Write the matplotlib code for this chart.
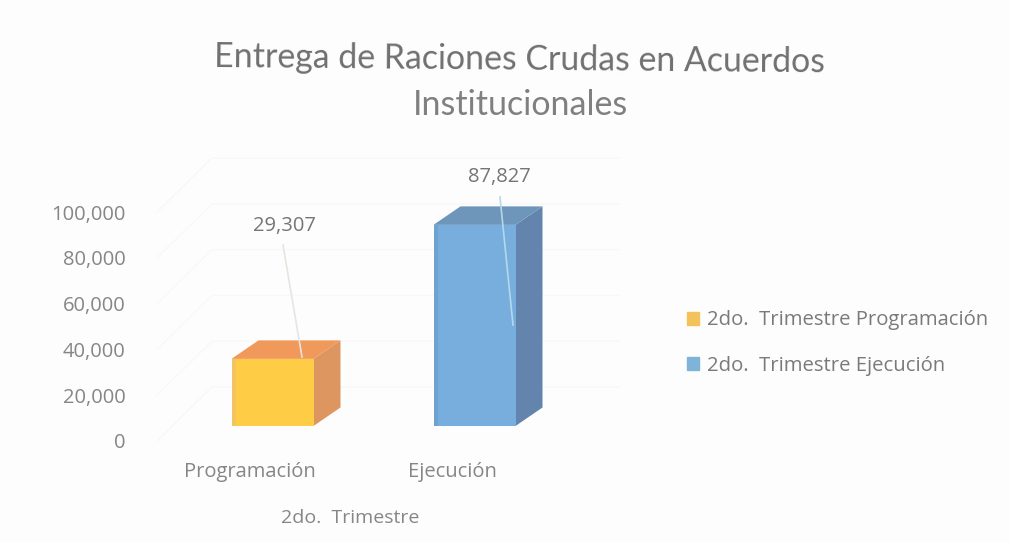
import matplotlib
matplotlib.use("Agg")
import matplotlib.pyplot as plt
from matplotlib.patches import Patch

categories = ["Programación", "Ejecución"]
values = [29307, 87827]
value_labels = ["29,307", "87,827"]
y_ticks = [0, 20000, 40000, 60000, 80000, 100000]
y_tick_labels = ["0", "20,000", "40,000", "60,000", "80,000", "100,000"]
legend_labels = ["2do.  Trimestre Programación", "2do.  Trimestre Ejecución"]
title_lines = ["Entrega de Raciones Crudas en Acuerdos", "Institucionales"]
axis_label = "2do.  Trimestre"

BG = "#fdfdfd"
W, H = 1010, 543
fig = plt.figure(figsize=(W / 100, H / 100), dpi=100, facecolor=BG)
plt.rcParams["font.family"] = ["Open Sans", "DejaVu Sans"]
TITLE_FONT = ["Lato", "DejaVu Sans"]

L, R, B, T = 130, 640, 441, 212
ax = fig.add_axes([L / W, 1 - B / H, (R - L) / W, (B - T) / H], facecolor="none")
xu = 202.0          # pixels per category
yu = 229 / 100000   # pixels per unit
ax.set_xlim((L - 250) / xu, (R - 250) / xu)
ax.set_ylim(0, 100000)
for s in ax.spines.values():
    s.set_visible(False)

# faint 3-D wall gridlines
gx0, gx1, gx2 = (157 - 250) / xu, (212 - 250) / xu, (620 - 250) / xu
wall_dy = 54 / yu
for v in y_ticks:
    ax.plot([gx0, gx1, gx2], [v, v + wall_dy, v + wall_dy], color="#f8f8f8",
            lw=1.0, clip_on=False, zorder=1)

# oblique 3-D bars
base = 15 / yu
bar_w = 82 / xu
dx, dy = 27 / xu, 18.5 / yu
shift = 22.5 / xu
front = ["#FFCD45", "#78AEDD"]
edge_strip = ["#F4C463", "#6FA3CF"]
side = ["#DD9660", "#6384AC"]
top = ["#F0995A", "#6E96BA"]
for i, v in enumerate(values):
    x0 = i + shift - bar_w / 2
    x1 = x0 + bar_w
    y0, y1 = base, base + v
    ax.fill([x1, x1 + dx, x1 + dx, x1], [y0, y0 + dy, y1 + dy, y1],
            color=side[i], lw=0, clip_on=False, zorder=2)
    ax.fill([x0, x0 + dx, x1 + dx, x1], [y1, y1 + dy, y1 + dy, y1],
            color=top[i], lw=0, clip_on=False, zorder=2)
    ax.bar(x0 + bar_w / 2, v, width=bar_w, bottom=base, color=front[i],
           lw=0, clip_on=False, zorder=3)
    ax.bar(x0 + 2 / xu, v, width=4 / xu, bottom=base, color=edge_strip[i],
           lw=0, clip_on=False, zorder=3)

# data labels with leader lines
label_pos = [(284, 226), (499, 177)]
leader_from = [(283, 245), (500, 197)]
leader_to = [(302, 357), (513, 325)]
leader_col = ["#e8e4e0", "#b4d8ea"]
def d(p):
    return ((p[0] - 250) / xu, (B - p[1]) / yu)
for i, txt in enumerate(value_labels):
    (a, b), (c, e) = d(leader_from[i]), d(leader_to[i])
    ax.plot([a, c], [b, e], color=leader_col[i], lw=1.2, clip_on=False, zorder=4)
    xt, yt = d(label_pos[i])
    ax.text(xt, yt, txt, ha="center", va="center", fontsize=14.5, color="#757575",
            zorder=5, clip_on=False)

ax.set_xticks([0, 1], categories)
ax.set_yticks(y_ticks, y_tick_labels)
ax.tick_params(axis="both", length=0, labelcolor="#868686", labelsize=14.5)
ax.tick_params(axis="x", pad=15)
ax.tick_params(axis="y", pad=3)
fig.text(350 / W, 1 - 518 / H, axis_label, ha="center", va="center",
         fontsize=14, color="#868686")

fig.text(520 / W, 1 - 60 / H, title_lines[0], ha="center", va="center", fontsize=24.4,
         color="#707070", rotation=-0.5, family=TITLE_FONT)
fig.text(520 / W, 1 - 105 / H, title_lines[1], ha="center", va="center", fontsize=24.5,
         color="#808080", family=TITLE_FONT)

handles = [Patch(color="#F4C25A"), Patch(color="#7FB3D8")]
leg = fig.legend(handles, legend_labels, loc="center left",
                 bbox_to_anchor=(687 / W, 1 - 343 / H), frameon=False,
                 fontsize=14.6, labelcolor="#7a7a7a", handlelength=0.6,
                 handleheight=0.6, handletextpad=0.4, labelspacing=1.25,
                 borderpad=0, borderaxespad=0)

fig.savefig("out.png", dpi=100, facecolor=BG)
